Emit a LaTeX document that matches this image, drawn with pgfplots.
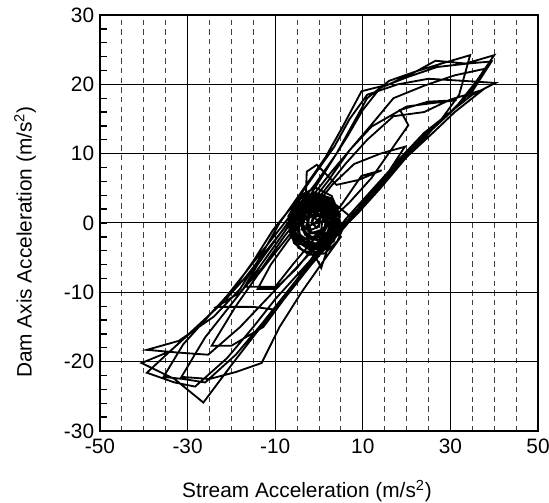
\documentclass[border=0pt]{standalone}
\usepackage{fontspec}
\setmainfont{Liberation Sans}
\usepackage{pgfplots}
\pgfplotsset{compat=1.18}
\begin{document}
\begin{tikzpicture}
\begin{axis}[
  width=262.8pt, height=249.6pt, scale only axis,
  xmin=-50, xmax=50, ymin=-30, ymax=30,
  xtick={-50,-30,-10,10,30,50},
  ytick={-30,-20,...,30},
  minor x tick num=3,
  minor y tick num=4,
  xmajorgrids, ymajorgrids, xminorgrids,
  major grid style={black, line width=0.6pt},
  minor grid style={black!75, dash pattern=on 3.2pt off 2.6pt, line width=0.6pt},
  axis line style={line width=1.4pt},
  tick align=inside,
  xtick pos=bottom,
  ytick pos=left,
  xtick style={draw=none},
  ytick style={black, line width=0.8pt},
  minor tick length=4pt,
  major tick length=4pt,
  tick label style={font=\fontsize{12.5}{14}\selectfont},
  xticklabel style={yshift=-1.5pt},
  /pgf/number format/assume math mode=true,
  label style={font=\fontsize{12.5}{14}\selectfont},
  xlabel={Stream Acceleration (m/s\textsuperscript{2})},
  ylabel={Dam Axis Acceleration (m/s\textsuperscript{2})},
  xlabel style={at={(axis description cs:0.4726,-0.145)}, anchor=center},
  ylabel style={at={(axis description cs:-0.171,0.454)}, anchor=center},
]
\addplot[black, line width=1.1pt, line join=miter, mark=none] coordinates {
(-1,0) (1,1.3) (-0.2,2.4) (-3,1.3) (-3.8,-0.7) (-2,-2.1) (1,-1.5) (2.6,0.4) (1.3,2.4) (-1.6,3) (-4.5,1.7) (-5.4,-0.4) (-3.6,-2.6) (-0.3,-3) (2.3,-1.3) (3.4,1) (1.6,3.2) (-2.3,3.6) (-5.2,2.1) (-6.2,-0.7) (-4.5,-3) (-1,-3.6) (2,-2.4) (3.9,0) (3.1,2.6) (0,3.9) (-3.6,3.2) (-6,1) (-5.7,-1.9) (-2.9,-3.6) (0.8,-3.2) (3.4,-1) (4.2,1.5) (2.1,3.6) (-1.3,4.1) (-4.7,2.6) (-6.5,0) (-4.9,-2.7) (-1.6,-3.9) (1.8,-3.1) (3.9,-0.9) (2.6,1.2) (0,1.7) (-2.3,0.7) (-2.6,-1) (-0.5,-1.7) (1.6,-0.5) (1,1) (-1.3,1.2) (-1.8,-0.3)
(2,0.5) (5,2.5) (9.7,6.8) (14.3,7.6) (9,6.2) (4,5.5) (-0.5,8.4) (-2.8,7.4) (-3,4) (-6,1) (-10,-2.5) (-14,-6) (-17,-9.2) (-13,-9.2) (-10,-9.2) (-6,-6) (-2,-3) (2,0)
(7,3) (12,6.5) (20.4,14.1) (18.5,16.3) (24.9,17.5) (31.4,17.7) (26,17.3) (20,16.8) (12,13.9) (7,10.5) (2,6) (-3,2) (-8,-2) (-13,-6.5) (-18,-10) (-23.4,-12.1) (-15,-12.1) (-10,-12.5) (-6,-9) (-1,-4.5) (4,-1) (8,1)
(13,4.5) (19,9) (25,13) (31,16.5) (36,20.5) (40,24.2) (33.5,23) (26.6,23.4) (22.3,21.9) (16,20) (9.7,19) (5.5,14) (1.5,9.5) (-4,4.5) (-9,0) (-13.5,-5) (-18,-9.5) (-24,-13.5) (-32,-17) (-39.3,-18.3) (-32,-18.7) (-25.3,-19) (-18,-15) (-12,-11) (-6,-7) (0,-3) (5,0) (3,1.5) (0,2)
(-2.6,2.1) (-4.5,0.4) (-3.2,-1.7) (0,-2.4) (2.6,-0.9) (2.9,1.4) (0.7,2.9) (-2.6,3.1) (-5.2,1.3) (-5.5,-1.3) (-2.6,-3.2) (1,-3.1) (3.6,-1) (3.9,1.5) (1.3,3.4) (-2,3.9) (-5.5,2.6) (-6.8,0) (-5.2,-2.6) (-1.6,-3.9) (2.1,-3.4) (4.4,-1.3) (4.7,1.3) (2.6,3.6) (-1,4.4) (-4.7,3.4) (-7,1) (-6.5,-1.9) (-3.6,-4.1) (0.3,-4.2) (3.4,-2.6) (4.9,0) (3.9,2.6)
(7,1) (11,3) (16,7) (22,11.5) (29,15.5) (35,18.5) (40.3,20.2) (33,20.5) (25,20.8) (18,20) (11,18.5) (7,15) (3.5,11) (-1,7) (-6,2.5) (-10.5,-1) (-15,-5.5) (-20,-10) (-27,-14.5) (-34,-18.5) (-40.5,-20.2) (-33,-22.5) (-26.4,-25.9) (-20,-20.5) (-14.5,-16) (-9.5,-12) (-4.5,-8) (1,-4) (6,-0.5)
(11,3.5) (17,8) (23,12) (29,15.5) (34,18) (39.4,23.3) (34,23) (27,22.5) (20,21) (14,19.5) (10,16.3) (6.5,12.5) (2.5,8.5) (-2,4) (-7,0) (-12,-4) (-17,-8) (-22,-11.5) (-28,-15) (-34,-18.5) (-39.3,-21.6) (-33,-23) (-28.3,-23.6) (-21,-19.5) (-15,-15) (-10,-11) (-5,-7.5) (0,-4) (3,-2)
(2,0.4) (0,2.1) (-2.9,1.9) (-4.2,-0.2) (-2.6,-2.2) (0.5,-2.6) (2.9,-1) (3.4,1.2) (1.3,3.1) (-2.1,3.4) (-4.9,2) (-6,-0.5) (-4.2,-2.9) (-0.8,-3.7) (2.3,-2.7) (4.2,-0.5) (3.9,2) (1,3.9) (-2.9,4.2) (-5.7,2.7) (-7,0) (-5.7,-2.9) (-2.3,-4.6) (1.3,-4.4) (4.2,-2.6)
(6,0) (11,3.5) (17,7.5) (23,11.5) (28,15) (32,18.5) (34.5,24.2) (28,23) (22.3,21.9) (16,20.5) (11,18) (7.5,14) (4,10) (-1,5.5) (-6,1.5) (-11,-2.5) (-16,-6.5) (-21,-10.5) (-26,-14) (-31,-17.5) (-35.5,-22.2) (-31,-22.5) (-26,-23) (-19,-19) (-13,-14.5) (-8,-10.5) (-3,-6.5) (2,-3)
(7,0.5) (12,4.5) (18,9) (24,13) (30,16) (34,18.5) (38.3,22.3) (31,21.3) (24,19.8) (17,18) (11.6,13.9) (7,10.5) (3,7.5) (-2,3.5) (-7,-0.5) (-11.5,-4.5) (-16,-8.5) (-21,-12.5) (-26,-16.5) (-31.4,-22.2) (-25,-22.5) (-19,-21.5) (-13.1,-20.2) (-9,-15) (-4,-10) (1,-5.5) (5,-2)
(2,0) (-1,1.8) (-4,1.2) (-5,-1) (-3,-2.8) (0.5,-3) (3,-1.5) (3.6,0.8) (1.5,2.8) (-1.8,3.3) (-4.8,2.3) (-6.2,-0.2) (-4.5,-2.4) (-1.5,-3.4) (2,-2.6) (4,-0.2) (3,2.4) (0,3.6) (-3.2,3.4) (-5.8,1.5) (-5.5,-1.5) (-2.5,-3.2) (1,-3.5) (3.8,-1.8)
(9,1.5) (14,5) (20,9.5) (26,13) (31,16) (37.4,19.2) (30,17.8) (24,16) (17,15.4) (11,12) (6,8.5) (1,4.5) (-4,0.5) (-9,-3.5) (-14,-7.5) (-19,-12) (-24.5,-17.7) (-20,-17.7) (-12.7,-15) (-8,-11) (-3,-7) (2,-3)
(6,0.5) (11,4) (16,7.5) (19.6,11) (14,10) (8,8.5) (3,5.5) (-2,1.5) (-7,-2.5) (-11,-6) (-14,-9.5) (-10,-9.5) (-5,-6.5) (0,-2.5) (4,0)
(2.6,1.7) (-0.6,2.6) (-3.6,1.4) (-3.9,-0.9) (-1.3,-2.2) (1.8,-1.5) (3.1,0.7) (1.3,2.6) (-2.1,2.9) (-4.7,1) (-4.4,-1.7) (-1,-3.1) (2.3,-2.2) (3.6,0.3) (2.3,3.1) (-1.3,3.9) (-4.9,2.7) (-6.5,0.2) (-4.9,-2.7) (-1.3,-4.2) (0.5,-6.5) (1.9,-3.8) (4.2,-1.5) (4.7,1.2) (2.9,3.9) (-0.8,5.1) (-3.6,4.2) (-6,2.2) (-6.8,-0.7) (-4.7,-3.6) (-1.3,-4.6) (2.1,-3.6) (3.9,-1.2) (3.1,1.4) (0.5,2) (-2.1,1.4) (-2.9,-0.3) (-1.6,-1.5) (0.5,-1.4) (1.6,-0.2) (0.8,1) (-1,1) (-1.6,0) (-0.5,-0.7) (0.2,0)
(-3,2) (-1,3) (1,1.5) (0.5,-1) (-2,-1.5) (-4,0) (-3.5,2.5) (-1,3.8) (1.5,2.5) (2,0) (0,-2) (-2.5,-2) (-4.5,0.5) (-3,3) (0,3.2) (1.8,1) (1,-1.5) (-1.5,-2.5) (-3.8,-1) (-3.8,1.5) (-1.5,2.8) (0.5,1.8) (0,-0.5) (-1.8,-1) (-2.8,0.5) (-1.5,1.8) (-0.5,0.8)
};
\end{axis}
\pgfresetboundingbox
\path (current axis.south west) ++(-60pt,-43.2pt) rectangle ([shift={(6.6pt,9pt)}]current axis.north east);
\end{tikzpicture}
\end{document}
